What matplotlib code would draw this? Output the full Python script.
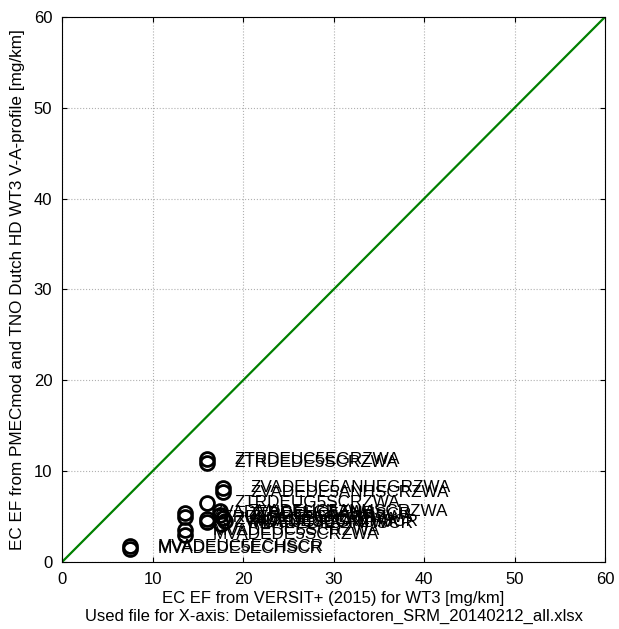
import numpy as np
import matplotlib
matplotlib.use("Agg")
from matplotlib import pyplot as plt

plt.rcParams['font.family'] = ['Liberation Sans', 'DejaVu Sans']

# EC emission factors: VERSIT+ (x) vs PMECmod/TNO (y), mg/km
versit = [16.0, 16.0, 17.8, 17.8, 16.0,
          13.6, 13.6, 13.6, 13.6, 16.0, 16.0,
          17.5, 17.5, 17.8, 18.0, 17.6,
          7.5, 7.5]
pmec = [11.3, 10.9, 8.2, 7.7, 6.5,
        5.4, 4.95, 3.5, 3.0, 4.7, 4.4,
        5.6, 5.2, 4.9, 4.5, 4.2,
        1.75, 1.45]
names = ['ZTRDEUC5EGRZWA', 'ZTRDEDE5SCRZWA', 'ZVADEUC5ANHEGRZWA', 'ZVADEDE5ANHSCRZWA', 'ZTRDEUG5SCRZWA',
         'ZVADEUC5SCRZWA', 'ZTRDEDE5EGRZWA', 'MVADEUC5SCRZWA', 'MVADEDE5SCRZWA', 'ZVADEDE5SCRZWA', 'ZVADEUC5EGRZWA',
         'ZVADEUC5ANHSCRZWA', 'ZTRDEUC5ANHSCR', 'ZVADEDE5EGRZWA', 'MVADEUC5ANHSCR', 'MVADEDE5ANHSCR',
         'MVADEUC5ECHSCR', 'MVADEDE5ECHSCR']

fig = plt.figure(figsize=(6.19, 6.29), dpi=100)
ax = fig.add_axes([0.1002, 0.1065, 0.8772, 0.8665])

ax.plot([0, 60], [0, 60], color=(0, 0.5, 0), lw=1.6)
ax.plot(versit, pmec, 'o', mfc='none', mec='black', ms=10, mew=2)
for x, y, s in zip(versit, pmec, names):
    ax.annotate(s, (x, y), xytext=(20, 0), textcoords='offset points',
                va='center', ha='left', fontsize=12.3)

ax.set_xlim(0, 60)
ax.set_ylim(0, 60)
ax.set_xticks(np.arange(0, 61, 10))
ax.set_yticks(np.arange(0, 61, 10))
ax.grid(True, linestyle=':', color='#b0b0b0', lw=0.8)
ax.tick_params(direction='in', labelsize=12, top=True, right=True, pad=7)
ax.set_xlabel('EC EF from VERSIT+ (2015) for WT3 [mg/km]\nUsed file for X-axis: Detailemissiefactoren_SRM_20140212_all.xlsx',
              fontsize=12, labelpad=3, linespacing=1.25)
ax.set_ylabel('EC EF from PMECmod and TNO Dutch HD WT3 V-A-profile [mg/km]', fontsize=12.3, labelpad=6)
for sp in ax.spines.values():
    sp.set_linewidth(0.8)

fig.savefig('out.png', dpi=100)
